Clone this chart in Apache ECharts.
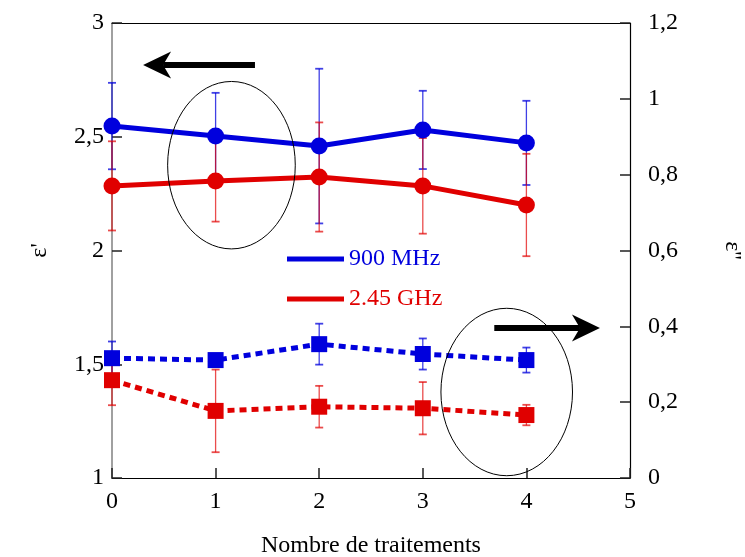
<!DOCTYPE html>
<html>
<head>
<meta charset="utf-8">
<script src="https://cdn.jsdelivr.net/npm/echarts@6/dist/echarts.min.js"></script>
<style>html,body{margin:0;padding:0;background:#fff}#c{width:745px;height:557px}</style>
</head>
<body>
<div id="c"></div>
<script>
// ---- data ----
const treatments = [0, 1, 2, 3, 4];
const epsP_900 = [2.547, 2.503, 2.459, 2.530, 2.473];
const epsP_245 = [2.284, 2.305, 2.323, 2.284, 2.200];
const errP_900 = [0.19, 0.19, 0.34, 0.172, 0.185];
const errP_245 = [0.196, 0.178, 0.24, 0.21, 0.225];
const epsPP_900 = [0.316, 0.311, 0.353, 0.327, 0.311];
const epsPP_245 = [0.258, 0.177, 0.188, 0.184, 0.166];
const errPP_900 = [0.044, 0.012, 0.054, 0.041, 0.033];
const errPP_245 = [0.066, 0.109, 0.055, 0.069, 0.027];
const leftTicks = [1, 1.5, 2, 2.5, 3];
const rightTicks = [0, 0.2, 0.4, 0.6, 0.8, 1, 1.2];
const xTicks = [0, 1, 2, 3, 4, 5];

const FONT = "'Liberation Serif', 'DejaVu Serif', serif";
const BLUE = '#0000dd';
const RED = '#e00000';

function pairs(xs, ys) { return xs.map((x, i) => [x, ys[i]]); }
function errData(xs, ys, es) { return xs.map((x, i) => [x, ys[i] - es[i], ys[i] + es[i]]); }
function fmt(v) { return String(Math.round(v * 10) / 10).replace('.', ','); }

function errRender(color) {
  return function (params, api) {
    const x = api.value(0), lo = api.value(1), hi = api.value(2);
    const a = api.coord([x, hi]);
    const b = api.coord([x, lo]);
    const cw = 4;
    const st = { stroke: color, lineWidth: 1.3 };
    return {
      type: 'group',
      children: [
        { type: 'line', shape: { x1: a[0], y1: a[1], x2: b[0], y2: b[1] }, style: st },
        { type: 'line', shape: { x1: a[0] - cw, y1: a[1], x2: a[0] + cw, y2: a[1] }, style: { stroke: color, lineWidth: 1.8 } },
        { type: 'line', shape: { x1: b[0] - cw, y1: b[1], x2: b[0] + cw, y2: b[1] }, style: { stroke: color, lineWidth: 1.8 } }
      ]
    };
  };
}

const axisFont = { fontFamily: FONT, fontSize: 24, color: '#000' };
function ticks() { return { show: true, inside: true, length: 10, lineStyle: { color: '#222', width: 1.5 } }; }

const option = {
  animation: false,
  backgroundColor: '#fff',
  grid: { left: 112, right: 115, top: 23, bottom: 79, show: false, containLabel: false, outerBoundsMode: 'none' },
  legend: {
    left: 282, top: 242, orient: 'vertical', itemWidth: 57, itemHeight: 5, itemGap: 16,
    icon: 'rect',
    textStyle: { fontFamily: FONT, fontSize: 24, lineHeight: 24 },
    data: [
      { name: '900 MHz', textStyle: { color: BLUE } },
      { name: '2.45 GHz', textStyle: { color: RED } }
    ]
  },
  xAxis: [
    {
      type: 'value', min: 0, max: 5, interval: 1, position: 'bottom',
      axisLine: { show: true, onZero: false, lineStyle: { color: '#000', width: 1.2 } },
      axisTick: ticks(),
      axisLabel: Object.assign({ margin: 12, formatter: v => fmt(v) }, axisFont),
      splitLine: { show: false },
      name: 'Nombre de traitements', nameLocation: 'middle', nameGap: 56,
      nameTextStyle: axisFont
    },
    {
      type: 'value', min: 0, max: 5, interval: 1, position: 'top',
      axisLine: { show: true, onZero: false, lineStyle: { color: '#000', width: 1.2 } },
      axisTick: { show: false }, axisLabel: { show: false }, splitLine: { show: false }
    }
  ],
  yAxis: [
    {
      type: 'value', min: 1, max: 3, interval: 0.5, position: 'left',
      axisLine: { show: true, onZero: false, lineStyle: { color: '#808080', width: 1.5 } },
      axisTick: ticks(),
      axisLabel: Object.assign({ margin: 8, formatter: v => fmt(v) }, axisFont),
      splitLine: { show: false },
      name: "ε'", nameLocation: 'middle', nameRotate: 90, nameGap: 60,
      nameTextStyle: axisFont
    },
    {
      type: 'value', min: 0, max: 1.2, interval: 0.2, position: 'right',
      axisLine: { show: true, onZero: false, lineStyle: { color: '#000', width: 1.2 } },
      axisTick: ticks(),
      axisLabel: Object.assign({ margin: 18, formatter: v => fmt(v) }, axisFont),
      splitLine: { show: false },
      name: "ε''", nameLocation: 'middle', nameRotate: -90, nameGap: 90,
      nameTextStyle: axisFont
    }
  ],
  series: [
    { name: '900 MHz', type: 'line', yAxisIndex: 0, data: pairs(treatments, epsP_900), showSymbol: false, symbol: 'none',
      lineStyle: { color: BLUE, width: 5 }, itemStyle: { color: BLUE }, z: 2 },
    { name: '2.45 GHz', type: 'line', yAxisIndex: 0, data: pairs(treatments, epsP_245), showSymbol: false, symbol: 'none',
      lineStyle: { color: RED, width: 5 }, itemStyle: { color: RED }, z: 2 },
    { name: 'pp900', type: 'line', yAxisIndex: 1, data: pairs(treatments, epsPP_900), showSymbol: false, symbol: 'none',
      lineStyle: { color: BLUE, width: 5, type: [7, 5] }, itemStyle: { color: BLUE }, z: 2 },
    { name: 'pp245', type: 'line', yAxisIndex: 1, data: pairs(treatments, epsPP_245), showSymbol: false, symbol: 'none',
      lineStyle: { color: RED, width: 5, type: [7, 5] }, itemStyle: { color: RED }, z: 2 },

    { name: 'e900', type: 'custom', yAxisIndex: 0, data: errData(treatments, epsP_900, errP_900), renderItem: errRender('rgba(0,0,220,0.75)'), encode: { x: 0, y: [1, 2] }, z: 3 },
    { name: 'e245', type: 'custom', yAxisIndex: 0, data: errData(treatments, epsP_245, errP_245), renderItem: errRender('rgba(225,0,0,0.7)'), encode: { x: 0, y: [1, 2] }, z: 3 },
    { name: 'epp900', type: 'custom', yAxisIndex: 1, data: errData(treatments, epsPP_900, errPP_900), renderItem: errRender('rgba(0,0,220,0.75)'), encode: { x: 0, y: [1, 2] }, z: 3 },
    { name: 'epp245', type: 'custom', yAxisIndex: 1, data: errData(treatments, epsPP_245, errPP_245), renderItem: errRender('rgba(225,0,0,0.7)'), encode: { x: 0, y: [1, 2] }, z: 3 },

    { name: 'm900', type: 'scatter', yAxisIndex: 0, data: pairs(treatments, epsP_900), symbol: 'circle', symbolSize: 17, itemStyle: { color: BLUE, opacity: 1 }, z: 4 },
    { name: 'm245', type: 'scatter', yAxisIndex: 0, data: pairs(treatments, epsP_245), symbol: 'circle', symbolSize: 17, itemStyle: { color: RED, opacity: 1 }, z: 4 },
    { name: 'mpp900', type: 'scatter', yAxisIndex: 1, data: pairs(treatments, epsPP_900), symbol: 'rect', symbolSize: 16, itemStyle: { color: BLUE, opacity: 1 }, z: 4 },
    { name: 'mpp245', type: 'scatter', yAxisIndex: 1, data: pairs(treatments, epsPP_245), symbol: 'rect', symbolSize: 16, itemStyle: { color: RED, opacity: 1 }, z: 4 }
  ]
};

const chart = echarts.init(document.getElementById('c'), null, { renderer: 'canvas' });
chart.setOption(option);

// ---- annotations (ellipses and arrows) in data coordinates of the left axis ----
const ellipses = [
  { cx: 1.153, cy: 2.375, rx: 0.616, ry: 0.368 },
  { cx: 3.81, cy: 1.378, rx: 0.635, ry: 0.368 }
];
const arrows = [
  { tail: [1.38, 2.815], tip: [0.30, 2.815] },
  { tail: [3.69, 1.659], tip: [4.71, 1.659] }
];
function px(p) { return chart.convertToPixel({ xAxisIndex: 0, yAxisIndex: 0 }, p); }
const g = [];
ellipses.forEach(e => {
  const c = px([e.cx, e.cy]);
  const r = px([e.cx + e.rx, e.cy + e.ry]);
  g.push({ type: 'ellipse', shape: { cx: c[0], cy: c[1], rx: Math.abs(r[0] - c[0]), ry: Math.abs(r[1] - c[1]) },
    style: { fill: null, stroke: '#000', lineWidth: 1 }, z: 10 });
});
arrows.forEach(a => {
  const t = px(a.tail), h = px(a.tip);
  const dir = Math.sign(t[0] - h[0]); // +1 if tail is to the right of tip
  const L = 28, W = 13.5, N = 20;
  g.push({ type: 'line', shape: { x1: t[0], y1: t[1], x2: h[0] + dir * N, y2: h[1] },
    style: { stroke: '#000', lineWidth: 6 }, z: 10 });
  g.push({ type: 'polygon', shape: { points: [
    [h[0], h[1]], [h[0] + dir * L, h[1] - W], [h[0] + dir * N, h[1]], [h[0] + dir * L, h[1] + W]
  ] }, style: { fill: '#000' }, z: 10 });
});
chart.setOption({ graphic: g });
</script>
</body>
</html>
